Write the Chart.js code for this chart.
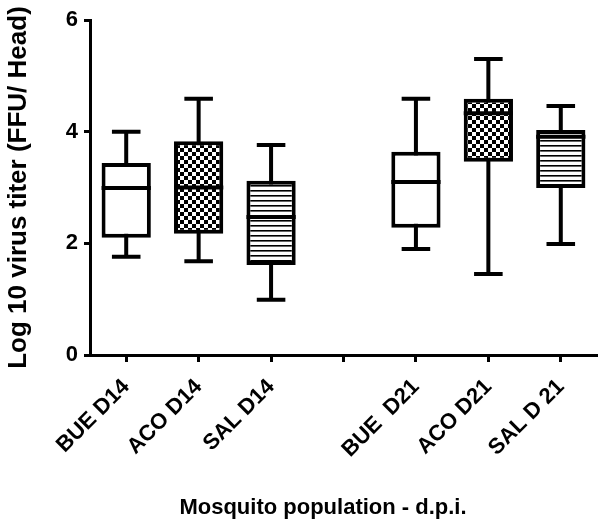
<!DOCTYPE html>
<html>
<head>
<meta charset="utf-8">
<script src="https://cdn.jsdelivr.net/npm/chart.js@4.4.1/dist/chart.umd.min.js"></script>
<style>
  body { margin: 0; background: #fff; }
  #wrap { width: 600px; height: 523px; }
</style>
</head>
<body>
<div id="wrap"><canvas id="myChart" width="600" height="523"></canvas></div>
<script>
// groups on the x axis (blank slot between day 14 and day 21)
const groups = ["BUE D14", "ACO D14", "SAL D14", "", "BUE  D21", "ACO D21", "SAL D 21"];
const mins    = [1.76, 1.68, 0.99, null, 1.90, 1.45, 1.99];
const q1s     = [2.10, 2.17, 1.61, null, 2.28, 3.46, 2.99];
const medians = [2.99, 3.00, 2.47, null, 3.10, 4.33, 3.91];
const q3s     = [3.44, 3.83, 3.12, null, 3.64, 4.59, 4.03];
const maxs    = [4.00, 4.59, 3.76, null, 4.59, 5.30, 4.46];
const fills   = ["white", "checker", "lines", "white", "white", "checker", "lines"];
const yTicks  = [0, 2, 4, 6];
const yTitle = "Log 10 virus titer (FFU/ Head)";
const xTitle = "Mosquito population - d.p.i.";

const font = "'Liberation Sans', Arial, sans-serif";
Chart.defaults.font.family = font;
Chart.defaults.color = "#000";

function makePattern(kind) {
  const c = document.createElement("canvas");
  const g = c.getContext("2d");
  if (kind === "checker") {
    c.width = 8; c.height = 8;
    g.fillStyle = "#fff"; g.fillRect(0, 0, 8, 8);
    g.fillStyle = "#000";
    g.fillRect(0, 0, 4, 4);
    g.fillRect(4, 4, 4, 4);
  } else if (kind === "lines") {
    c.width = 4; c.height = 5;
    g.fillStyle = "#fff"; g.fillRect(0, 0, 4, 5);
    g.fillStyle = "#000"; g.fillRect(0, 0, 4, 1);
    g.fillStyle = "#666"; g.fillRect(0, 1, 4, 1);
  } else {
    return "#fff";
  }
  return document.getElementById("myChart").getContext("2d").createPattern(c, "repeat");
}

// whiskers go under the boxes, medians on top
const boxPlot = {
  id: "boxPlot",
  beforeDatasetsDraw(chart) {
    const ctx = chart.ctx;
    const y = chart.scales.y;
    const meta = chart.getDatasetMeta(0);
    ctx.save();
    ctx.strokeStyle = "#000";
    ctx.lineWidth = 4;
    meta.data.forEach((bar, i) => {
      if (mins[i] == null) return;
      const capW = bar.width * 0.58;
      const yMin = y.getPixelForValue(mins[i]);
      const yMax = y.getPixelForValue(maxs[i]);
      ctx.beginPath();
      ctx.moveTo(bar.x, yMin);
      ctx.lineTo(bar.x, yMax);
      ctx.moveTo(bar.x - capW / 2, yMin);
      ctx.lineTo(bar.x + capW / 2, yMin);
      ctx.moveTo(bar.x - capW / 2, yMax);
      ctx.lineTo(bar.x + capW / 2, yMax);
      ctx.stroke();
    });
    ctx.restore();
  },
  afterDatasetsDraw(chart) {
    const ctx = chart.ctx;
    const y = chart.scales.y;
    const meta = chart.getDatasetMeta(0);
    ctx.save();
    ctx.strokeStyle = "#000";
    ctx.lineWidth = 4;
    meta.data.forEach((bar, i) => {
      if (medians[i] == null) return;
      const yMed = y.getPixelForValue(medians[i]);
      ctx.beginPath();
      ctx.moveTo(bar.x - bar.width / 2, yMed);
      ctx.lineTo(bar.x + bar.width / 2, yMed);
      ctx.stroke();
    });
    // x axis title
    ctx.font = "bold 22px " + font;
    ctx.fillStyle = "#000";
    ctx.textAlign = "center";
    ctx.textBaseline = "middle";
    ctx.fillText(xTitle, 323, 508);
    ctx.restore();
  }
};

const ctx = document.getElementById("myChart");
new Chart(ctx, {
  type: "bar",
  data: {
    labels: groups,
    datasets: [{
      data: groups.map((g, i) => (q1s[i] == null ? null : [q1s[i], q3s[i]])),
      backgroundColor: fills.map(makePattern),
      borderColor: "#000",
      borderWidth: 4,
      borderSkipped: false,
      barPercentage: 0.68,
      categoryPercentage: 1
    }]
  },
  options: {
    responsive: false,
    animation: false,
    layout: { padding: { top: 20, right: 3, left: 0, bottom: 0 } },
    plugins: { legend: { display: false }, tooltip: { enabled: false } },
    scales: {
      x: {
        offset: true,
        grid: { offset: false, drawOnChartArea: false, drawTicks: true, tickLength: 7, tickWidth: 3, tickColor: "#000" },
        border: { display: true, color: "#000", width: 3 },
        ticks: { maxRotation: 45, minRotation: 45, padding: 12, font: { size: 22, weight: "bold" } },
        afterFit: (s) => { s.height = 168; }
      },
      y: {
        min: 0,
        max: 6,
        afterBuildTicks: (s) => { s.ticks = yTicks.map((v) => ({ value: v })); },
        grid: { drawOnChartArea: false, drawTicks: true, tickLength: 6, tickWidth: 3, tickColor: "#000" },
        border: { display: true, color: "#000", width: 3 },
        ticks: { padding: 6, font: { size: 22, weight: "bold" } },
        title: { display: true, text: yTitle, padding: { top: 3, bottom: 0 }, font: { size: 26, weight: "bold" } },
        afterFit: (s) => { s.width = 90; }
      }
    }
  },
  plugins: [boxPlot]
});
</script>
</body>
</html>
